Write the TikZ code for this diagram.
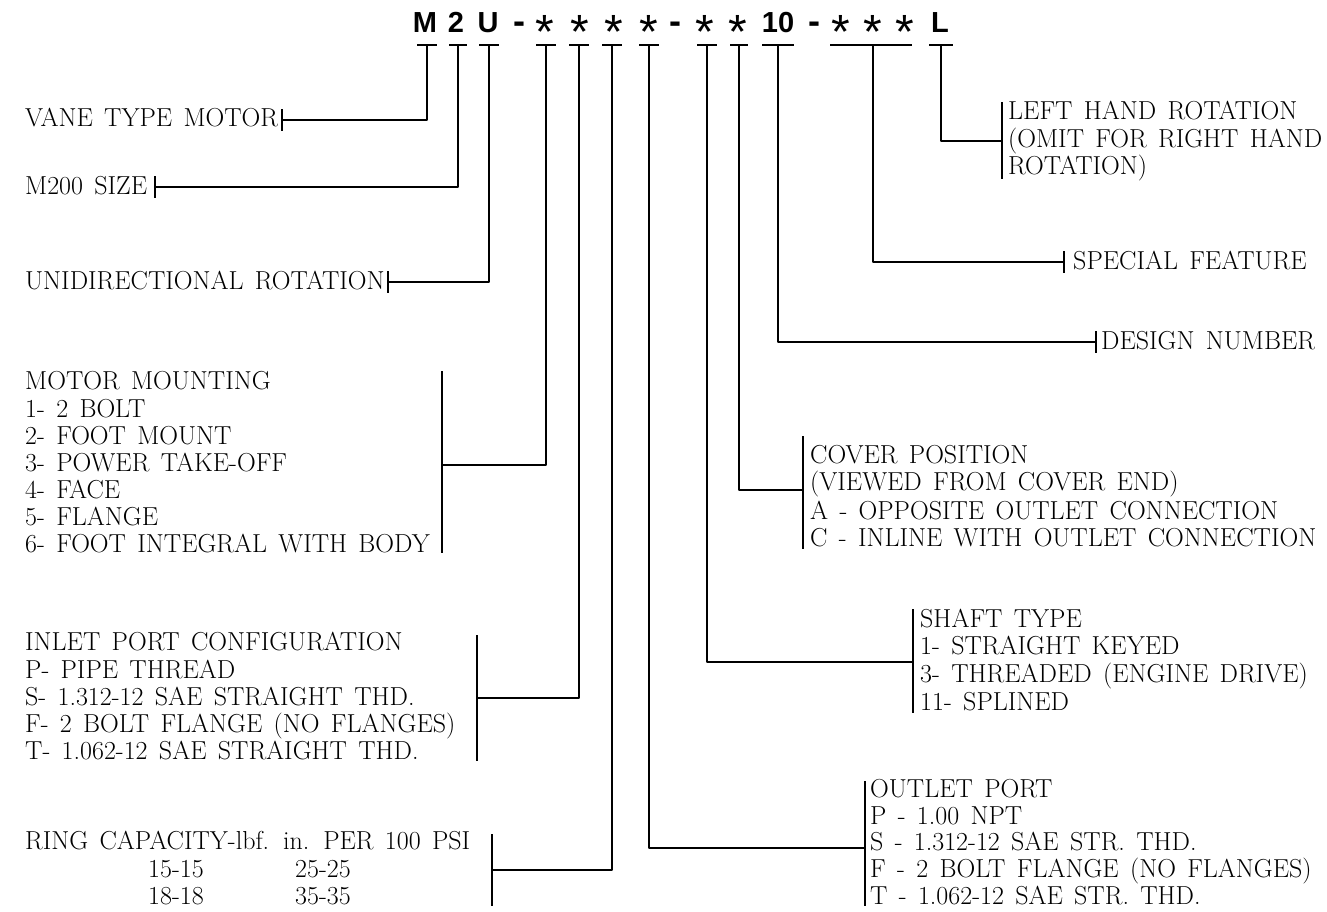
\documentclass[tikz,border=0pt]{standalone}
\usepackage{fontspec}
\newfontfamily\codefont{Liberation Sans}
\usetikzlibrary{calc}
\newcommand{\lblfont}{\fontsize{26}{27}\selectfont\addfontfeature{LetterSpace=6}\spaceskip 11.3pt plus 1pt minus 1pt\relax}
\tikzset{
  lbl/.style={anchor=base west, inner sep=0pt, font=\lblfont},
  code/.style={anchor=base, inner sep=0pt, font=\codefont\bfseries\fontsize{29}{29}\selectfont},
  wire/.style={line width=1.8pt, line join=round, line cap=rect},
  teebar/.style={line width=2.8pt},
}
\newcommand{\codeast}{\raisebox{-16pt}{\mdseries\fontsize{48}{48}\selectfont *}}
\newcommand{\codedash}{\raisebox{-1pt}{\fontsize{36}{36}\selectfont -}}
\begin{document}
\begin{tikzpicture}[x=1pt,y=-1pt]
\useasboundingbox (0,0) rectangle (1327,912);
% code characters
\node[code] (c1) at (425,33) {M};
\node[code] (c2) at (456,33) {2};
\node[code] (c3) at (488,33) {U};
\node[code] (c4) at (519,33) {\codedash};
\node[code] (c5) at (545,33) {\codeast};
\node[code] (c6) at (580,33) {\codeast};
\node[code] (c7) at (614,33) {\codeast};
\node[code] (c8) at (649,33) {\codeast};
\node[code] (c9) at (675,33) {\codedash};
\node[code] (c10) at (705,33) {\codeast};
\node[code] (c11) at (738,33) {\codeast};
\node[code] (c12) at (778,33) {10};
\node[code] (c13) at (814,33) {\codedash};
\node[code] (c14) at (841,33) {\codeast};
\node[code] (c15) at (873,33) {\codeast};
\node[code] (c16) at (905,33) {\codeast};
\node[code] (c17) at (940,33) {L};
% tee coordinates
\foreach \n/\x/\w in {M/427/10,S2/458/9,U/489/10,A1/546/10,A2/579/10,A3/612/10,A4/649/10,B1/707/10,B2/739/9,D/778/16,L/941/12}{
  \coordinate (t\n) at (\x,45);
  \draw[teebar] (\x-\w,45) -- (\x+\w,45);
}
\coordinate (tSp) at (873,45);
\draw[teebar] (830,45) -- (912,45);

% ---- left labels
\node[lbl] (vane) at (25,127) {VANE TYPE MOTOR};
\coordinate (vaneT) at ($(vane.base east)+(4,-7)$);
\draw[wire] ($(vaneT)+(0,-10)$) -- ($(vaneT)+(0,10)$);
\draw[wire] (tM) |- (vaneT);

\node[lbl] (size) at (25,194) {M200 SIZE};
\coordinate (sizeT) at ($(size.base east)+(8,-7)$);
\draw[wire] ($(sizeT)+(0,-10)$) -- ($(sizeT)+(0,10)$);
\draw[wire] (tS2) |- (sizeT);

\node[lbl] (uni) at (25,289) {UNIDIRECTIONAL ROTATION};
\coordinate (uniT) at ($(uni.base east)+(3,-7)$);
\draw[wire] ($(uniT)+(0,-10)$) -- ($(uniT)+(0,10)$);
\draw[wire] (tU) |- (uniT);

% motor mounting
\node[lbl] (mm0) at (25,389) {MOTOR MOUNTING};
\node[lbl] (mm1) at (25,417) {1- 2 BOLT};
\node[lbl] (mm2) at (25,444) {2- FOOT MOUNT};
\node[lbl] (mm3) at (25,471) {3- POWER TAKE-OFF};
\node[lbl] (mm4) at (25,498) {4- FACE};
\node[lbl] (mm5) at (25,525) {5- FLANGE};
\node[lbl] (mm6) at (25,552) {6- FOOT INTEGRAL WITH BODY};
\coordinate (mmB) at (442,465);
\draw[wire] (442,372) -- (442,552);
\draw[wire] (tA1) |- (mmB);

% inlet port
\node[lbl] (in0) at (25,650) {INLET PORT CONFIGURATION};
\node[lbl] (in1) at (25,678) {P- PIPE THREAD};
\node[lbl] (in2) at (25,705) {S- 1.312-12 SAE STRAIGHT THD.};
\node[lbl] (in3) at (25,732) {F- 2 BOLT FLANGE (NO FLANGES)};
\node[lbl] (in4) at (25,759) {T- 1.062-12 SAE STRAIGHT THD.};
\coordinate (inB) at (477,698);
\draw[wire] (477,636) -- (477,760);
\draw[wire] (tA2) |- (inB);

% ring capacity
\node[lbl] (rc0) at (25,849) {RING CAPACITY-lbf. in. PER 100 PSI};
\node[lbl] (rc1) at (148,877) {15-15};
\node[lbl] (rc2) at (295,877) {25-25};
\node[lbl] (rc3) at (148,904) {18-18};
\node[lbl] (rc4) at (295,904) {35-35};
\coordinate (rcB) at (492,870);
\draw[wire] (492,835) -- (492,905);
\draw[wire] (tA3) |- (rcB);

% ---- right labels
\node[lbl] (lh0) at (1008,120) {LEFT HAND ROTATION};
\node[lbl] (lh1) at (1008,148) {(OMIT FOR RIGHT HAND};
\node[lbl] (lh2) at (1008,175) {ROTATION)};
\coordinate (lhB) at (1002,141);
\draw[wire] (1002,103) -- (1002,178);
\draw[wire] (tL) |- (lhB);

\node[lbl] (sp) at (1073,269) {SPECIAL FEATURE};
\coordinate (spT) at ($(sp.base west)+(-9,-7)$);
\draw[wire] ($(spT)+(0,-10)$) -- ($(spT)+(0,10)$);
\draw[wire] (tSp) |- (spT);

\node[lbl] (dn) at (1101,349) {DESIGN NUMBER};
\coordinate (dnT) at ($(dn.base west)+(-5,-7)$);
\draw[wire] ($(dnT)+(0,-10)$) -- ($(dnT)+(0,10)$);
\draw[wire] (tD) |- (dnT);

% cover position
\node[lbl] (cp0) at (810,463) {COVER POSITION};
\node[lbl] (cp1) at (810,490) {(VIEWED FROM COVER END)};
\node[lbl] (cp2) at (810,519) {A - OPPOSITE OUTLET CONNECTION};
\node[lbl] (cp3) at (810,546) {C - INLINE WITH OUTLET CONNECTION};
\coordinate (cpB) at (803,490);
\draw[wire] (803,437) -- (803,548);
\draw[wire] (tB2) |- (cpB);

% shaft type
\node[lbl] (st0) at (920,627) {SHAFT TYPE};
\node[lbl] (st1) at (920,654) {1- STRAIGHT KEYED};
\node[lbl] (st2) at (920,682) {3- THREADED (ENGINE DRIVE)};
\node[lbl] (st3) at (920,710) {11- SPLINED};
\coordinate (stB) at (913,662);
\draw[wire] (913,610) -- (913,712);
\draw[wire] (tB1) |- (stB);

% outlet port
\node[lbl] (op0) at (870,797) {OUTLET PORT};
\node[lbl] (op1) at (870,824) {P - 1.00 NPT};
\node[lbl] (op2) at (870,850) {S - 1.312-12 SAE STR. THD.};
\node[lbl] (op3) at (870,877) {F - 2 BOLT FLANGE (NO FLANGES)};
\node[lbl] (op4) at (870,904) {T - 1.062-12 SAE STR. THD.};
\coordinate (opB) at (865,848);
\draw[wire] (865,782) -- (865,905);
\draw[wire] (tA4) |- (opB);
\end{tikzpicture}
\end{document}
